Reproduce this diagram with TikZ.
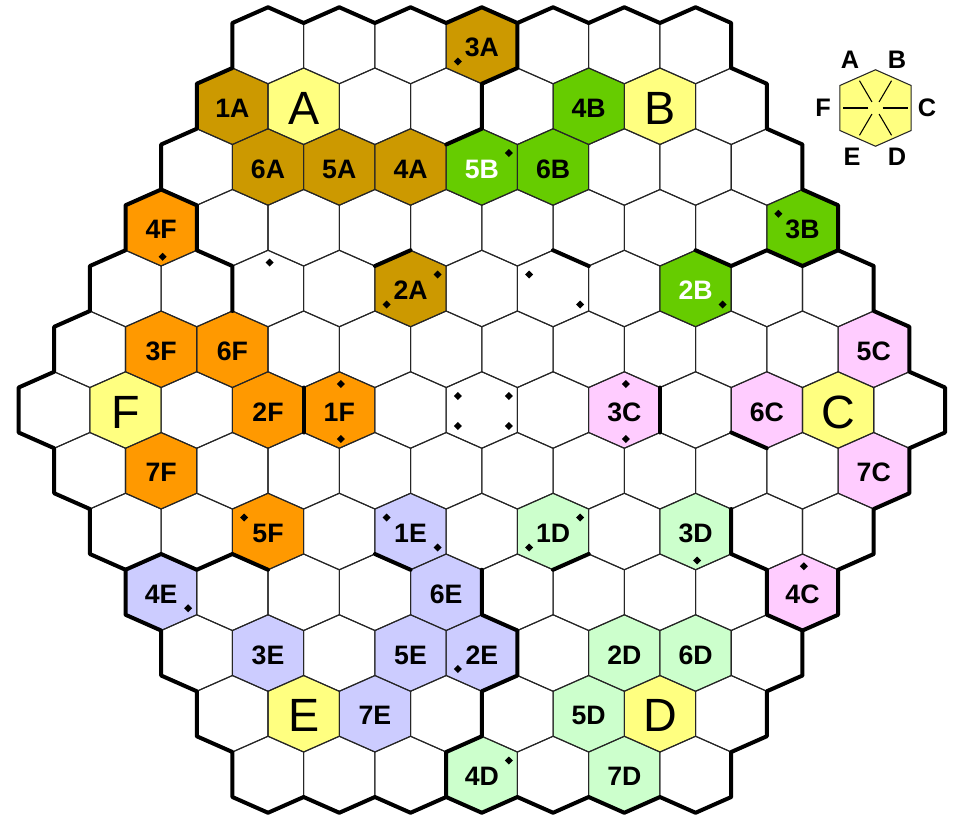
\documentclass[tikz,border=0pt]{standalone}
\usepackage{fontspec}
\setmainfont{Liberation Sans}
\usetikzlibrary{calc}

\definecolor{ochre}{HTML}{CC9900}
\definecolor{leaf}{HTML}{66CC00}
\definecolor{amber}{HTML}{FF9900}
\definecolor{lemon}{HTML}{FFFF80}
\definecolor{blush}{HTML}{FFCCFF}
\definecolor{lilac}{HTML}{CCCCFF}
\definecolor{mint}{HTML}{CCFFCC}

% hex geometry (pixel units)
\newcommand{\hexw}{35.63}
\newcommand{\hexr}{15.75}
\newcommand{\hexpos}[2]{({481.8+35.63*(#2)},{45.5+60.75*(#1)})}
\newcommand{\cellat}[3]{\coordinate (#1) at ({481.8+35.63*(#3)},{45.5+60.75*(#2)})}
\newcommand{\hexat}[1]{#1 ++(0,-38.25) -- ++(\hexw,\hexr) -- ++(0,45) -- ++(-\hexw,\hexr) -- ++(-\hexw,-\hexr) -- ++(0,-45) -- cycle}

\begin{document}
\begin{tikzpicture}[x=0.75pt, y=-0.75pt,
  cellline/.style={draw=black!85, line width=0.8pt},
  wall/.style={line width=3pt, line cap=round, line join=round},
  lbl/.style={font=\fontsize{20}{24}\selectfont\bfseries, inner sep=0pt, yshift=-1.5pt},
  lblw/.style={lbl, text=white},
  big/.style={font=\fontsize{35}{42}\selectfont, inner sep=0pt, yshift=-1.5pt},
  key/.style={font=\fontsize{19}{23}\selectfont\bfseries, inner sep=0pt},
  gem/.pic={\fill (0,-4) -- (4,0) -- (0,4) -- (-4,0) -- cycle;}
]
\useasboundingbox (0,0) rectangle (955,818);

% Coloured cells: row/col/colour/name
\foreach \ro/\co/\clr/\nm in {
  0/0/ochre/3A, 1/-7/ochre/1A, 2/-6/ochre/6A, 2/-4/ochre/5A, 2/-2/ochre/4A, 4/-2/ochre/2A,
  1/-5/lemon/A, 1/5/lemon/B, 6/10/lemon/C, 11/5/lemon/D, 11/-5/lemon/E, 6/-10/lemon/F,
  1/3/leaf/4B, 2/0/leaf/5B, 2/2/leaf/6B, 3/9/leaf/3B, 4/6/leaf/2B,
  3/-9/amber/4F, 5/-9/amber/3F, 5/-7/amber/6F, 6/-6/amber/2F, 6/-4/amber/1F, 7/-9/amber/7F, 8/-6/amber/5F,
  5/11/blush/5C, 6/4/blush/3C, 6/8/blush/6C, 7/11/blush/7C, 9/9/blush/4C,
  8/-2/lilac/1E, 9/-9/lilac/4E, 9/-1/lilac/6E, 10/-6/lilac/3E, 10/-2/lilac/5E, 10/0/lilac/2E, 11/-3/lilac/7E,
  8/2/mint/1D, 8/6/mint/3D, 10/4/mint/2D, 10/6/mint/6D, 11/3/mint/5D, 12/0/mint/4D, 12/4/mint/7D} {
  \cellat{c\nm}{\ro}{\co};
  \fill[\clr] \hexat{(c\nm)};
}
\cellat{spot1}{4}{-6};
\cellat{spot2}{4}{2};
\cellat{spot3}{6}{0};
\cellat{rim}{0}{-6};

% Grid of 127 cells
\foreach \ro in {0,...,12} {
  \pgfmathtruncatemacro\hm{12-abs(\ro-6)}
  \foreach \idx in {0,...,\hm} {
    \pgfmathtruncatemacro\co{2*\idx-\hm}
    \draw[cellline] \hexat{\hexpos{\ro}{\co}};
  }
}

% Outer rim
\draw[wall] (rim) ++(-\hexw,-22.5)
  \foreach \i in {1,...,7} { -- ++(\hexw,-\hexr) -- ++(\hexw,\hexr) }
  \foreach \i in {1,...,6} { -- ++(0,45) -- ++(\hexw,\hexr) }
  -- ++(0,45)
  \foreach \i in {1,...,6} { -- ++(-\hexw,\hexr) -- ++(0,45) }
  \foreach \i in {1,...,7} { -- ++(-\hexw,\hexr) -- ++(-\hexw,-\hexr) }
  \foreach \i in {1,...,6} { -- ++(0,-45) -- ++(-\hexw,-\hexr) }
  -- ++(0,-45)
  \foreach \i in {1,...,6} { -- ++(\hexw,-\hexr) -- ++(0,-45) }
  -- cycle;

% Inner walls
\draw[wall] (c3A) ++(\hexw,-22.5) -- ++(0,45) -- ++(-\hexw,\hexr) -- ++(0,45) -- ++(-\hexw,\hexr);
\draw[wall] (c4F) ++(0,-38.25) -- ++(\hexw,\hexr) -- ++(0,45) -- ++(\hexw,\hexr) -- ++(0,45);
\draw[wall] (c2A) ++(-\hexw,-22.5) -- ++(\hexw,-\hexr);
\draw[wall] (spot2) ++(0,-38.25) -- ++(\hexw,\hexr);
\draw[wall] (c2B) ++(0,-38.25) -- ++(\hexw,\hexr) -- ++(\hexw,-\hexr) -- ++(\hexw,\hexr) -- ++(\hexw,-\hexr);
\draw[wall] (c1F) ++(-\hexw,-22.5) -- ++(0,45);
\draw[wall] (c3C) ++(\hexw,-22.5) -- ++(0,45);
\draw[wall] (c6C) ++(-\hexw,22.5) -- ++(\hexw,\hexr);
\draw[wall] (c4E) ++(-\hexw,-22.5) -- ++(\hexw,-\hexr) -- ++(\hexw,\hexr) -- ++(\hexw,-\hexr) -- ++(\hexw,\hexr);
\draw[wall] (c1E) ++(-\hexw,22.5) -- ++(\hexw,\hexr);
\draw[wall] (c6E) ++(\hexw,-22.5) -- ++(0,45) -- ++(\hexw,\hexr) -- ++(0,45) -- ++(-\hexw,\hexr)
  -- ++(0,45) -- ++(-\hexw,\hexr) -- ++(0,45);
\draw[wall] (c1D) ++(\hexw,22.5) -- ++(-\hexw,\hexr);
\draw[wall] (c3D) ++(\hexw,-22.5) -- ++(0,45) -- ++(\hexw,\hexr) -- ++(0,45) -- ++(\hexw,\hexr);

% Diamond markers
\foreach \p/\dx/\dy in {c3A/-24/16, c5B/27/-14, c3B/-24/-14, c4F/1.5/29, spot1/1.5/-26,
  c2A/27/-14, c2A/-24/16, spot2/-24/-14, spot2/27/16, c2B/27/16, c1F/1.5/-26, c1F/1.5/29,
  spot3/-24/-14, spot3/27/-14, spot3/-24/16, spot3/27/16, c3C/1.5/-26, c3C/1.5/29,
  c5F/-24/-14, c1E/-24/-14, c1E/27/16, c1D/27/-14, c1D/-24/16, c3D/1.5/29,
  c4E/27/16, c4C/1.5/-26, c2E/-24/16, c4D/27/-14}
  \path (\p) ++(\dx,\dy) pic {gem};

% Cell labels
\foreach \nm/\sty in {3A/lbl, 1A/lbl, 6A/lbl, 5A/lbl, 4A/lbl, 2A/lbl,
  A/big, B/big, C/big, D/big, E/big, F/big,
  4B/lbl, 5B/lblw, 6B/lbl, 3B/lbl, 2B/lblw,
  4F/lbl, 3F/lbl, 6F/lbl, 2F/lbl, 1F/lbl, 7F/lbl, 5F/lbl,
  5C/lbl, 3C/lbl, 6C/lbl, 7C/lbl, 4C/lbl,
  1E/lbl, 4E/lbl, 6E/lbl, 3E/lbl, 5E/lbl, 2E/lbl, 7E/lbl,
  1D/lbl, 3D/lbl, 2D/lbl, 6D/lbl, 5D/lbl, 4D/lbl, 7D/lbl}
  \node[\sty] (t\nm) at (c\nm) {\nm};

% Legend: side names
\coordinate (leg) at (875.5,108);
\fill[lemon] \hexat{(leg)};
\draw[cellline] \hexat{(leg)};
\foreach \dx/\dy in {35.63/0, 17.8/30.3, -17.8/30.3, -35.63/0, -17.8/-30.3, 17.8/-30.3}
  \draw[line width=0.8pt] (leg) ++({0.2*\dx},{0.2*\dy}) -- ++({0.7*\dx},{0.7*\dy});
\foreach \nm/\dx/\dy in {A/-25.5/-48, B/21.5/-48, C/51.5/0, D/21.5/49, E/-23.5/49, F/-52.5/0}
  \path (leg) ++(\dx,\dy) node[key] (leg\nm) {\nm};
\end{tikzpicture}
\end{document}
